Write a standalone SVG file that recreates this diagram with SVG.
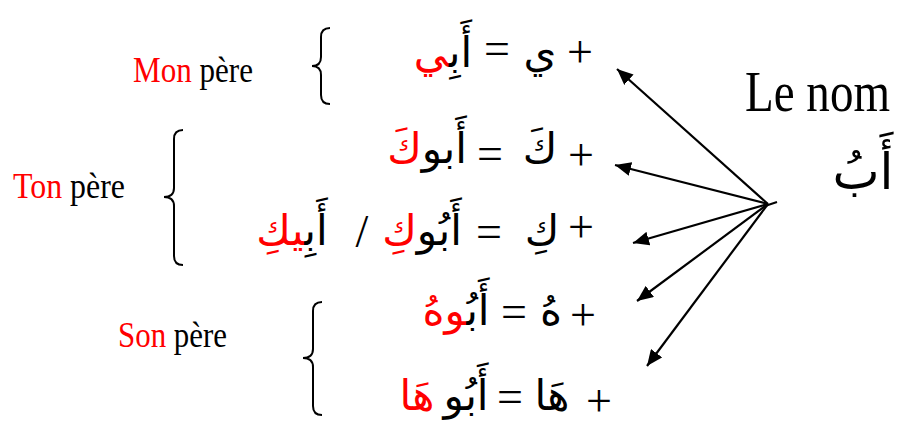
<svg xmlns="http://www.w3.org/2000/svg" width="897" height="421" viewBox="0 0 897 421">
<style>
.lat{font-family:"Liberation Serif","Times New Roman",serif;fill:#000}
.ar{font-family:"DejaVu Sans","Noto Sans",sans-serif;fill:#000;font-size:42px}
.op{font-family:"Liberation Serif","Times New Roman",serif;font-size:46px;fill:#000}
.red{fill:#ff0000}
.brace{fill:none;stroke:#000;stroke-width:2}
.arrow{stroke:#000;stroke-width:2.2;fill:none;marker-end:url(#ah)}
</style>
<defs>
<marker id="ah" markerUnits="userSpaceOnUse" markerWidth="18" markerHeight="14" refX="16" refY="7" orient="auto">
<path d="M0,0 L16,7 L0,14 z" fill="#000"/>
</marker>
</defs>
<rect width="897" height="421" fill="#fff"/>

<g id="label-mon">
<text class="lat" x="133" y="82" font-size="36" textLength="120" lengthAdjust="spacingAndGlyphs"><tspan class="red">Mon</tspan> père</text>
</g>
<g id="label-ton">
<text class="lat" x="13" y="198" font-size="36" textLength="112" lengthAdjust="spacingAndGlyphs"><tspan class="red">Ton</tspan> père</text>
</g>
<g id="label-son">
<text class="lat" x="118" y="347" font-size="36" textLength="109" lengthAdjust="spacingAndGlyphs"><tspan class="red">Son</tspan> père</text>
</g>
<g id="le-nom">
<text class="lat" x="745" y="111" font-size="58" textLength="145" lengthAdjust="spacingAndGlyphs">Le nom</text>
<text class="ar" x="863" y="189" style="font-size:50px" text-anchor="middle">أَبُ</text>
</g>

<g id="braces">
<path class="brace" d="M330,28 Q321,28 321,37 L321,57 Q321,66 312,66 Q321,66 321,75 L321,95 Q321,104 330,104"/>
<path class="brace" d="M183,130 Q174,130 174,139 L174,188 Q174,197 164,197 Q174,197 174,206 L174,256 Q174,265 183,265"/>
<path class="brace" d="M322,302 Q313,302 313,311 L313,349 Q313,358 303,358 Q313,358 313,367 L313,406 Q313,415 322,415"/>
</g>

<g id="line1">
<text class="op" x="580" y="67" text-anchor="middle">+</text>
<text class="ar" x="540" y="67" text-anchor="middle">ي</text>
<text class="op" x="497" y="64" text-anchor="middle">=</text>
<text class="ar" x="443" y="67" text-anchor="middle">أَبِ&#x200D;<tspan class="red">&#x200D;ي</tspan></text>
</g>
<g id="line2">
<text class="op" x="581" y="170" text-anchor="middle">+</text>
<text class="ar" x="540" y="163" text-anchor="middle">كَ</text>
<text class="op" x="490" y="169" text-anchor="middle">=</text>
<text class="ar" x="427" y="163" text-anchor="middle">أَبو<tspan class="red">كَ</tspan></text>
</g>
<g id="line3">
<text class="op" x="581" y="242" text-anchor="middle">+</text>
<text class="ar" x="542" y="245" text-anchor="middle">كِ</text>
<text class="op" x="489" y="247" text-anchor="middle">=</text>
<text class="ar" x="422" y="245" text-anchor="middle">أَبُو<tspan class="red">كِ</tspan></text>
<text class="op" x="362" y="247" text-anchor="middle">/</text>
<text class="ar" x="292" y="245" text-anchor="middle">أَبِ&#x200D;<tspan class="red">&#x200D;يكِ</tspan></text>
</g>
<g id="line4">
<text class="op" x="514" y="327" text-anchor="middle">=</text>
<text class="op" x="583" y="330" text-anchor="middle">+</text>
<text class="ar" x="551" y="325" text-anchor="middle">هُ</text>
<text class="ar" x="456" y="325" text-anchor="middle">أَبُ&#x200D;<tspan class="red">&#x200D;وهُ</tspan></text>
</g>
<g id="line5">
<text class="op" x="599" y="416" text-anchor="middle">+</text>
<text class="ar" x="552" y="410" text-anchor="middle">هَا</text>
<text class="op" x="510" y="412" text-anchor="middle">=</text>
<text class="ar" x="466" y="410" text-anchor="middle">أَبُو</text>
<text class="ar red" x="417" y="410" text-anchor="middle">هَا</text>
</g>

<g id="connectors">
<line class="arrow" x1="768" y1="204" x2="617" y2="69"/>
<line class="arrow" x1="768" y1="204" x2="615" y2="165"/>
<line class="arrow" x1="768" y1="204" x2="633" y2="243"/>
<line class="arrow" x1="768" y1="204" x2="637" y2="301"/>
<line class="arrow" x1="768" y1="204" x2="647" y2="366"/>
<line x1="765" y1="206" x2="777" y2="202" stroke="#000" stroke-width="2"/>
</g>
</svg>
